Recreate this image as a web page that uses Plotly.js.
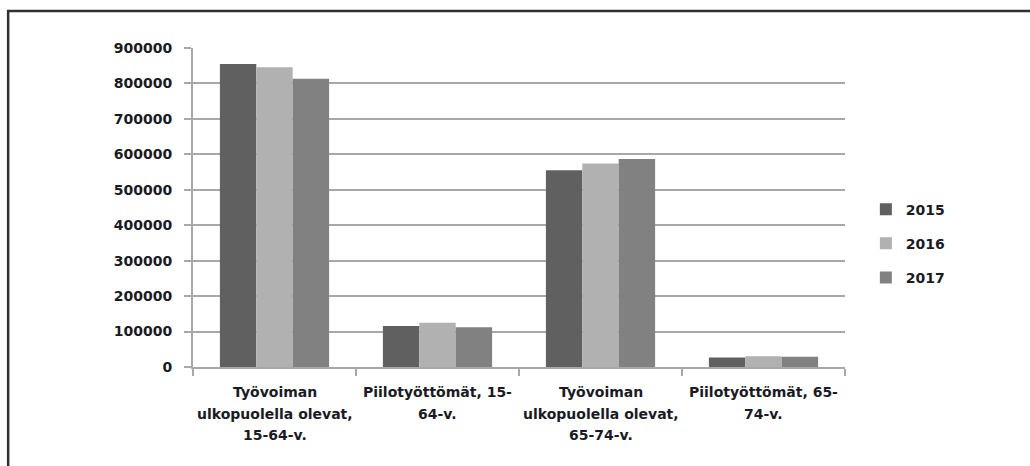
<!DOCTYPE html>
<html>
<head>
<meta charset="utf-8">
<script src="https://cdn.plot.ly/plotly-3.0.1.min.js"></script>
<style>
  html, body { margin: 0; padding: 0; background: #ffffff; }
  #chart { width: 1030px; height: 466px; }
</style>
</head>
<body>
<div id="chart"></div>
<script>
// Categories (keys) and their displayed label lines
const categories = ["cat1", "cat2", "cat3", "cat4"];
const categoryLabelLines = [
  ["Työvoiman", "ulkopuolella olevat,", "15-64-v."],
  ["Piilotyöttömät, 15-", "64-v."],
  ["Työvoiman", "ulkopuolella olevat,", "65-74-v."],
  ["Piilotyöttömät, 65-", "74-v."]
];

// Series
const seriesNames = ["2015", "2016", "2017"];
const values2015 = [855000, 116000, 555000, 27000];
const values2016 = [846000, 125000, 574000, 30000];
const values2017 = [813000, 112000, 587000, 29000];
const seriesColors = ["#606060", "#b1b1b1", "#818181"];

// Y-axis ticks
const yTickVals = [0, 100000, 200000, 300000, 400000, 500000, 600000, 700000, 800000, 900000];
const yTickText = ["0", "100000", "200000", "300000", "400000", "500000", "600000", "700000", "800000", "900000"];

const allValues = [values2015, values2016, values2017];
const FONT = "DejaVu Sans, sans-serif";
const TEXT_COLOR = "#1a1a24";
const GRID = "#a8a8a8";

const traces = seriesNames.map((name, i) => ({
  type: "bar",
  name: name,
  x: categories,
  y: allValues[i],
  marker: { color: seriesColors[i], line: { width: 0 } },
  legendgroup: name,
  hoverinfo: "skip"
}));

const annotations = [];
categoryLabelLines.forEach((lines, ci) => {
  lines.forEach((line, li) => {
    annotations.push({
      x: categories[ci], xref: "x",
      y: 0, yref: "paper",
      yanchor: "middle", xanchor: "center",
      yshift: -(25 + li * 21.5),
      text: line, showarrow: false,
      font: { family: FONT, size: 14, color: TEXT_COLOR, weight: "bold" }
    });
  });
});

const layout = {
  width: 1030, height: 466,
  margin: { l: 193, r: 185, t: 48, b: 99 },
  paper_bgcolor: "#ffffff",
  plot_bgcolor: "#ffffff",
  barmode: "group",
  bargap: 0.33,
  bargroupgap: 0,
  showlegend: true,
  legend: {
    x: 1.032, xanchor: "left",
    y: 0.387, yanchor: "middle",
    traceorder: "grouped",
    tracegroupgap: 13,
    font: { family: FONT, size: 14, color: TEXT_COLOR, weight: "bold" },
    bgcolor: "rgba(0,0,0,0)",
    borderwidth: 0
  },
  xaxis: {
    type: "category",
    showticklabels: false,
    showgrid: false,
    showline: true, linecolor: GRID, linewidth: 2,
    ticks: "outside", tickson: "boundaries", ticklen: 7, tickcolor: GRID, tickwidth: 2,
    zeroline: false,
    fixedrange: true
  },
  yaxis: {
    range: [0, 900000],
    tickmode: "array",
    tickvals: yTickVals,
    ticktext: yTickText,
    showgrid: true, gridcolor: GRID, gridwidth: 2,
    showline: true, linecolor: GRID, linewidth: 2,
    ticks: "outside", ticklen: 7, tickcolor: GRID, tickwidth: 2,
    ticklabelstandoff: 9,
    zeroline: false,
    tickfont: { family: FONT, size: 14, color: TEXT_COLOR, weight: "bold" },
    fixedrange: true
  },
  annotations: annotations,
  shapes: [
    {
      type: "path", xref: "paper", yref: "paper",
      path: "M -0.2835,-0.33 L -0.2835,1.116 L 1.30,1.116",
      line: { color: "#303030", width: 2.5 }
    }
  ]
};

Plotly.newPlot("chart", traces, layout, { displayModeBar: false, staticPlot: true });
</script>
</body>
</html>
